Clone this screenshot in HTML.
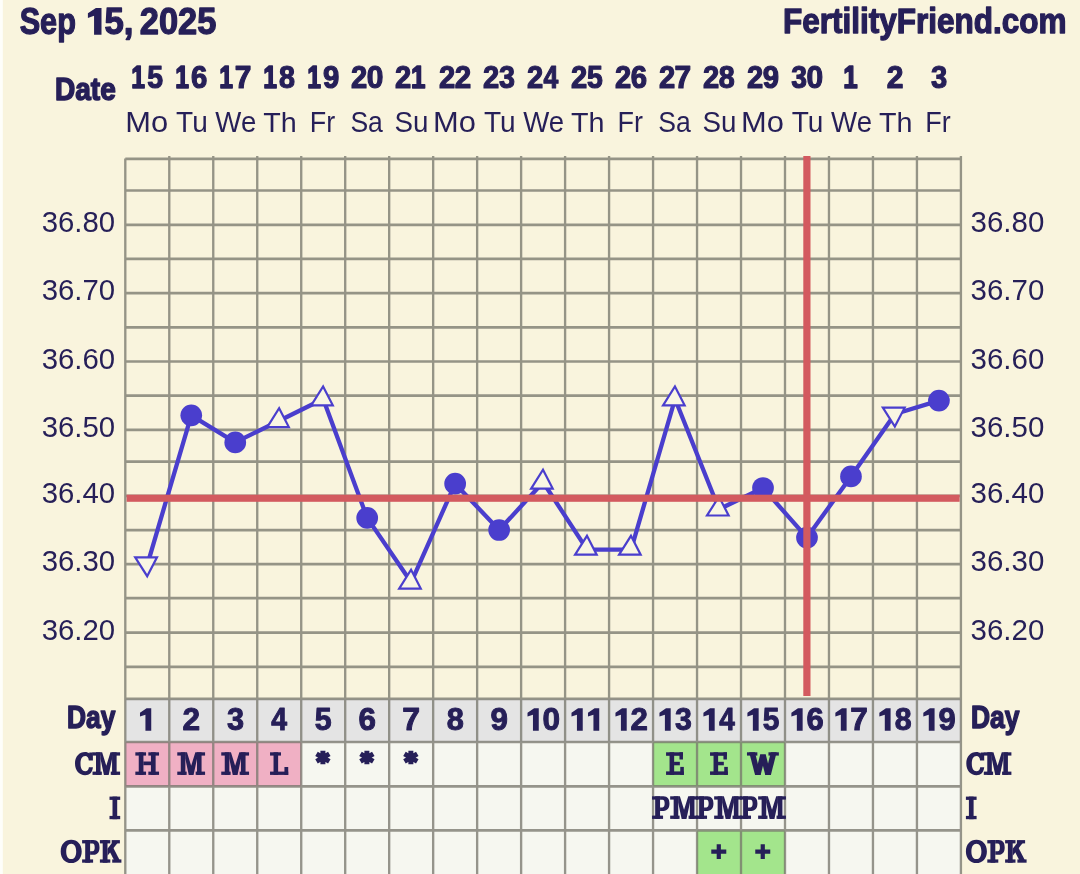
<!DOCTYPE html>
<html><head><meta charset="utf-8"><title>Chart</title>
<style>html,body{margin:0;padding:0;background:#f9f4dd;}svg{display:block}body{font-family:"Liberation Sans",sans-serif;}</style></head>
<body>
<svg width="1080" height="874" viewBox="0 0 1080 874">
<rect width="1080" height="874" fill="#f9f4dd"/>
<defs><filter id="soft" x="-10" y="-10" width="1100" height="894" filterUnits="userSpaceOnUse" color-interpolation-filters="sRGB"><feGaussianBlur stdDeviation="0.45"/></filter></defs>
<g filter="url(#soft)"><rect x="-10" y="-10" width="1100" height="894" fill="#f9f4dd"/>
<rect x="-10" y="-10" width="12.8" height="894" fill="#fefefa"/>
<rect x="125.30" y="698.9" width="835.62" height="43.10" fill="#e4e4e4"/>
<rect x="125.30" y="742.0" width="835.62" height="142.00" fill="#f6f7f0"/>
<rect x="125.30" y="742.00" width="43.98" height="44.40" fill="#f0b0c4"/>
<rect x="169.28" y="742.00" width="43.98" height="44.40" fill="#f0b0c4"/>
<rect x="213.26" y="742.00" width="43.98" height="44.40" fill="#f0b0c4"/>
<rect x="257.24" y="742.00" width="43.98" height="44.40" fill="#f0b0c4"/>
<rect x="653.06" y="742.00" width="43.98" height="44.40" fill="#a3e58c"/>
<rect x="697.04" y="742.00" width="43.98" height="44.40" fill="#a3e58c"/>
<rect x="741.02" y="742.00" width="43.98" height="44.40" fill="#a3e58c"/>
<rect x="697.04" y="830.40" width="43.98" height="55.60" fill="#a3e58c"/>
<rect x="741.02" y="830.40" width="43.98" height="55.60" fill="#a3e58c"/>
<g opacity="0.76" stroke="#77766c" fill="none"><path d="M125.30 158.90H960.92M125.30 190.50H960.92M125.30 224.80H960.92M125.30 258.90H960.92M125.30 293.20H960.92M125.30 327.30H960.92M125.30 361.50H960.92M125.30 395.60H960.92M125.30 429.90H960.92M125.30 461.60H960.92M125.30 495.90H960.92M125.30 530.20H960.92M125.30 564.20H960.92M125.30 598.20H960.92M125.30 632.60H960.92M125.30 666.90H960.92M125.30 698.90H960.92M125.30 742.00H960.92M125.30 786.40H960.92M125.30 830.40H960.92" stroke-width="2.7"/><path d="M125.30 158.5V884M169.28 156V884M213.26 156V884M257.24 156V884M301.22 156V884M345.20 156V884M389.18 156V884M433.16 156V884M477.14 156V884M521.12 156V884M565.10 156V884M609.08 156V884M653.06 156V884M697.04 156V884M741.02 156V884M785.00 156V884M828.98 156V884M872.96 156V884M916.94 156V884M960.92 156V884" stroke-width="2.35"/></g>
<polyline points="147.29,564.80 191.27,415.30 235.25,442.40 279.23,420.80 323.21,399.00 367.19,517.90 411.17,582.30 455.15,483.70 499.13,530.00 543.11,482.30 587.09,549.60 631.07,549.60 675.05,399.00 719.03,509.20 763.01,488.00 806.99,537.60 850.97,476.40 894.95,414.00 938.93,400.60" fill="none" stroke="#4a3ecd" stroke-width="4.3" stroke-linejoin="round"/>
<path d="M147.19 576.20L156.99 557.30H135.19Z" fill="#f9f6e3" stroke="#4a3ecd" stroke-width="2.2"/>
<circle cx="191.27" cy="415.30" r="10.85" fill="#4a3ecd"/>
<circle cx="235.25" cy="442.40" r="10.85" fill="#4a3ecd"/>
<path d="M279.13 408.20L288.83 427.10H267.23Z" fill="#f9f6e3" stroke="#4a3ecd" stroke-width="2.2"/>
<path d="M323.11 386.40L332.81 405.30H311.21Z" fill="#f9f6e3" stroke="#4a3ecd" stroke-width="2.2"/>
<circle cx="367.19" cy="517.90" r="10.85" fill="#4a3ecd"/>
<path d="M411.07 569.70L420.77 588.60H399.17Z" fill="#f9f6e3" stroke="#4a3ecd" stroke-width="2.2"/>
<circle cx="455.15" cy="483.70" r="10.85" fill="#4a3ecd"/>
<circle cx="499.13" cy="530.00" r="10.85" fill="#4a3ecd"/>
<path d="M543.01 469.70L552.71 488.60H531.11Z" fill="#f9f6e3" stroke="#4a3ecd" stroke-width="2.2"/>
<path d="M586.99 535.80L596.69 554.70H575.09Z" fill="#f9f6e3" stroke="#4a3ecd" stroke-width="2.2"/>
<path d="M630.97 535.80L640.67 554.70H619.07Z" fill="#f9f6e3" stroke="#4a3ecd" stroke-width="2.2"/>
<path d="M674.95 386.40L684.65 405.30H663.05Z" fill="#f9f6e3" stroke="#4a3ecd" stroke-width="2.2"/>
<path d="M718.93 496.60L728.63 515.50H707.03Z" fill="#f9f6e3" stroke="#4a3ecd" stroke-width="2.2"/>
<circle cx="763.01" cy="488.00" r="10.85" fill="#4a3ecd"/>
<circle cx="806.99" cy="537.60" r="10.85" fill="#4a3ecd"/>
<circle cx="850.97" cy="476.40" r="10.85" fill="#4a3ecd"/>
<path d="M894.85 426.60L904.65 407.70H882.85Z" fill="#f9f6e3" stroke="#4a3ecd" stroke-width="2.2"/>
<circle cx="938.93" cy="400.60" r="10.85" fill="#4a3ecd"/>
<rect x="126.60" y="494.7" width="833.02" height="7.1" fill="#d35a5f"/>
<rect x="803.3" y="156" width="7.2" height="540" fill="#d35a5f"/>
<text transform="translate(19.63,34.25) scale(0.1533,0.1829)" font-family='"Liberation Sans", sans-serif' font-weight="bold" font-size="200" fill="#261f58" stroke="#261f58" stroke-width="7.11" stroke-linejoin="round">Sep</text>
<path transform="translate(87.9,8.0) scale(1.209,1.191)" d="M11.25 0V22.5H5.1V6.5L0 8.3V4.5L6.6 0z" fill="#261f58"/>
<text transform="translate(104.41,34.25) scale(0.1741,0.1841)" font-family='"Liberation Sans", sans-serif' font-weight="bold" font-size="200" fill="#261f58" stroke="#261f58" stroke-width="7.06" stroke-linejoin="round">5,</text>
<text transform="translate(139.85,34.25) scale(0.1721,0.1829)" font-family='"Liberation Sans", sans-serif' font-weight="bold" font-size="200" fill="#261f58" stroke="#261f58" stroke-width="7.11" stroke-linejoin="round">2025</text>
<text transform="translate(782.90,33.35) scale(0.1576,0.1717)" font-family='"Liberation Sans", sans-serif' font-weight="bold" font-size="200" fill="#261f58" stroke="#261f58" stroke-width="7.57" stroke-linejoin="round">FertilityFriend.com</text>
<text transform="translate(54.92,100.15) scale(0.1404,0.1580)" font-family='"Liberation Sans", sans-serif' font-weight="bold" font-size="200" fill="#261f58" stroke="#261f58" stroke-width="9.50" stroke-linejoin="round">Date</text>
<text transform="translate(131.31,87.90) scale(0.1234,0.1529)" font-family='"Liberation Sans", sans-serif' font-weight="bold" font-size="200" fill="#261f58" stroke="#261f58" stroke-width="10.46" stroke-linejoin="round">1</text>
<text transform="translate(147.14,88.10) scale(0.1420,0.1558)" font-family='"Liberation Sans", sans-serif' font-weight="bold" font-size="200" fill="#261f58" stroke="#261f58" stroke-width="7.70" stroke-linejoin="round">5</text>
<text transform="translate(125.22,131.50) scale(0.1543,0.1486)" font-family='"Liberation Sans", sans-serif' font-weight="normal" font-size="200" fill="#261f58">Mo</text>
<text transform="translate(175.29,87.90) scale(0.1234,0.1529)" font-family='"Liberation Sans", sans-serif' font-weight="bold" font-size="200" fill="#261f58" stroke="#261f58" stroke-width="10.46" stroke-linejoin="round">1</text>
<text transform="translate(190.95,88.10) scale(0.1464,0.1536)" font-family='"Liberation Sans", sans-serif' font-weight="bold" font-size="200" fill="#261f58" stroke="#261f58" stroke-width="7.81" stroke-linejoin="round">6</text>
<text transform="translate(176.06,131.50) scale(0.1402,0.1486)" font-family='"Liberation Sans", sans-serif' font-weight="normal" font-size="200" fill="#261f58">Tu</text>
<text transform="translate(219.27,87.90) scale(0.1234,0.1529)" font-family='"Liberation Sans", sans-serif' font-weight="bold" font-size="200" fill="#261f58" stroke="#261f58" stroke-width="10.46" stroke-linejoin="round">1</text>
<text transform="translate(234.75,88.10) scale(0.1495,0.1558)" font-family='"Liberation Sans", sans-serif' font-weight="bold" font-size="200" fill="#261f58" stroke="#261f58" stroke-width="7.70" stroke-linejoin="round">7</text>
<text transform="translate(215.36,131.50) scale(0.1381,0.1486)" font-family='"Liberation Sans", sans-serif' font-weight="normal" font-size="200" fill="#261f58">We</text>
<text transform="translate(263.25,87.90) scale(0.1234,0.1529)" font-family='"Liberation Sans", sans-serif' font-weight="bold" font-size="200" fill="#261f58" stroke="#261f58" stroke-width="10.46" stroke-linejoin="round">1</text>
<text transform="translate(279.07,88.10) scale(0.1434,0.1536)" font-family='"Liberation Sans", sans-serif' font-weight="bold" font-size="200" fill="#261f58" stroke="#261f58" stroke-width="7.81" stroke-linejoin="round">8</text>
<text transform="translate(263.16,131.50) scale(0.1435,0.1414)" font-family='"Liberation Sans", sans-serif' font-weight="normal" font-size="200" fill="#261f58">Th</text>
<text transform="translate(307.23,87.90) scale(0.1234,0.1529)" font-family='"Liberation Sans", sans-serif' font-weight="bold" font-size="200" fill="#261f58" stroke="#261f58" stroke-width="10.46" stroke-linejoin="round">1</text>
<text transform="translate(322.89,88.10) scale(0.1464,0.1536)" font-family='"Liberation Sans", sans-serif' font-weight="bold" font-size="200" fill="#261f58" stroke="#261f58" stroke-width="7.81" stroke-linejoin="round">9</text>
<text transform="translate(309.65,131.50) scale(0.1349,0.1486)" font-family='"Liberation Sans", sans-serif' font-weight="normal" font-size="200" fill="#261f58">Fr</text>
<text transform="translate(351.07,88.10) scale(0.1458,0.1536)" font-family='"Liberation Sans", sans-serif' font-weight="bold" font-size="200" fill="#261f58" stroke="#261f58" stroke-width="7.81" stroke-linejoin="round">2</text>
<text transform="translate(366.69,88.10) scale(0.1495,0.1536)" font-family='"Liberation Sans", sans-serif' font-weight="bold" font-size="200" fill="#261f58" stroke="#261f58" stroke-width="7.81" stroke-linejoin="round">0</text>
<text transform="translate(350.40,131.50) scale(0.1328,0.1464)" font-family='"Liberation Sans", sans-serif' font-weight="normal" font-size="200" fill="#261f58">Sa</text>
<text transform="translate(395.05,88.10) scale(0.1458,0.1536)" font-family='"Liberation Sans", sans-serif' font-weight="bold" font-size="200" fill="#261f58" stroke="#261f58" stroke-width="7.81" stroke-linejoin="round">2</text>
<text transform="translate(410.91,87.90) scale(0.1298,0.1529)" font-family='"Liberation Sans", sans-serif' font-weight="bold" font-size="200" fill="#261f58" stroke="#261f58" stroke-width="10.46" stroke-linejoin="round">1</text>
<text transform="translate(394.52,131.50) scale(0.1387,0.1464)" font-family='"Liberation Sans", sans-serif' font-weight="normal" font-size="200" fill="#261f58">Su</text>
<text transform="translate(439.03,88.10) scale(0.1458,0.1536)" font-family='"Liberation Sans", sans-serif' font-weight="bold" font-size="200" fill="#261f58" stroke="#261f58" stroke-width="7.81" stroke-linejoin="round">2</text>
<text transform="translate(454.81,88.10) scale(0.1479,0.1536)" font-family='"Liberation Sans", sans-serif' font-weight="bold" font-size="200" fill="#261f58" stroke="#261f58" stroke-width="7.81" stroke-linejoin="round">2</text>
<text transform="translate(433.08,131.50) scale(0.1543,0.1486)" font-family='"Liberation Sans", sans-serif' font-weight="normal" font-size="200" fill="#261f58">Mo</text>
<text transform="translate(483.01,88.10) scale(0.1458,0.1536)" font-family='"Liberation Sans", sans-serif' font-weight="bold" font-size="200" fill="#261f58" stroke="#261f58" stroke-width="7.81" stroke-linejoin="round">2</text>
<text transform="translate(499.11,88.10) scale(0.1434,0.1536)" font-family='"Liberation Sans", sans-serif' font-weight="bold" font-size="200" fill="#261f58" stroke="#261f58" stroke-width="7.81" stroke-linejoin="round">3</text>
<text transform="translate(483.92,131.50) scale(0.1402,0.1486)" font-family='"Liberation Sans", sans-serif' font-weight="normal" font-size="200" fill="#261f58">Tu</text>
<text transform="translate(526.99,88.10) scale(0.1458,0.1536)" font-family='"Liberation Sans", sans-serif' font-weight="bold" font-size="200" fill="#261f58" stroke="#261f58" stroke-width="7.81" stroke-linejoin="round">2</text>
<text transform="translate(543.41,88.10) scale(0.1327,0.1558)" font-family='"Liberation Sans", sans-serif' font-weight="bold" font-size="200" fill="#261f58" stroke="#261f58" stroke-width="7.70" stroke-linejoin="round">4</text>
<text transform="translate(523.22,131.50) scale(0.1381,0.1486)" font-family='"Liberation Sans", sans-serif' font-weight="normal" font-size="200" fill="#261f58">We</text>
<text transform="translate(570.97,88.10) scale(0.1458,0.1536)" font-family='"Liberation Sans", sans-serif' font-weight="bold" font-size="200" fill="#261f58" stroke="#261f58" stroke-width="7.81" stroke-linejoin="round">2</text>
<text transform="translate(586.94,88.10) scale(0.1420,0.1558)" font-family='"Liberation Sans", sans-serif' font-weight="bold" font-size="200" fill="#261f58" stroke="#261f58" stroke-width="7.70" stroke-linejoin="round">5</text>
<text transform="translate(571.02,131.50) scale(0.1435,0.1414)" font-family='"Liberation Sans", sans-serif' font-weight="normal" font-size="200" fill="#261f58">Th</text>
<text transform="translate(614.95,88.10) scale(0.1458,0.1536)" font-family='"Liberation Sans", sans-serif' font-weight="bold" font-size="200" fill="#261f58" stroke="#261f58" stroke-width="7.81" stroke-linejoin="round">2</text>
<text transform="translate(630.75,88.10) scale(0.1464,0.1536)" font-family='"Liberation Sans", sans-serif' font-weight="bold" font-size="200" fill="#261f58" stroke="#261f58" stroke-width="7.81" stroke-linejoin="round">6</text>
<text transform="translate(617.51,131.50) scale(0.1349,0.1486)" font-family='"Liberation Sans", sans-serif' font-weight="normal" font-size="200" fill="#261f58">Fr</text>
<text transform="translate(658.93,88.10) scale(0.1458,0.1536)" font-family='"Liberation Sans", sans-serif' font-weight="bold" font-size="200" fill="#261f58" stroke="#261f58" stroke-width="7.81" stroke-linejoin="round">2</text>
<text transform="translate(674.55,88.10) scale(0.1495,0.1558)" font-family='"Liberation Sans", sans-serif' font-weight="bold" font-size="200" fill="#261f58" stroke="#261f58" stroke-width="7.70" stroke-linejoin="round">7</text>
<text transform="translate(658.26,131.50) scale(0.1328,0.1464)" font-family='"Liberation Sans", sans-serif' font-weight="normal" font-size="200" fill="#261f58">Sa</text>
<text transform="translate(702.91,88.10) scale(0.1458,0.1536)" font-family='"Liberation Sans", sans-serif' font-weight="bold" font-size="200" fill="#261f58" stroke="#261f58" stroke-width="7.81" stroke-linejoin="round">2</text>
<text transform="translate(718.87,88.10) scale(0.1434,0.1536)" font-family='"Liberation Sans", sans-serif' font-weight="bold" font-size="200" fill="#261f58" stroke="#261f58" stroke-width="7.81" stroke-linejoin="round">8</text>
<text transform="translate(702.38,131.50) scale(0.1387,0.1464)" font-family='"Liberation Sans", sans-serif' font-weight="normal" font-size="200" fill="#261f58">Su</text>
<text transform="translate(746.89,88.10) scale(0.1458,0.1536)" font-family='"Liberation Sans", sans-serif' font-weight="bold" font-size="200" fill="#261f58" stroke="#261f58" stroke-width="7.81" stroke-linejoin="round">2</text>
<text transform="translate(762.69,88.10) scale(0.1464,0.1536)" font-family='"Liberation Sans", sans-serif' font-weight="bold" font-size="200" fill="#261f58" stroke="#261f58" stroke-width="7.81" stroke-linejoin="round">9</text>
<text transform="translate(740.94,131.50) scale(0.1543,0.1486)" font-family='"Liberation Sans", sans-serif' font-weight="normal" font-size="200" fill="#261f58">Mo</text>
<text transform="translate(791.18,88.10) scale(0.1414,0.1536)" font-family='"Liberation Sans", sans-serif' font-weight="bold" font-size="200" fill="#261f58" stroke="#261f58" stroke-width="7.81" stroke-linejoin="round">3</text>
<text transform="translate(806.49,88.10) scale(0.1495,0.1536)" font-family='"Liberation Sans", sans-serif' font-weight="bold" font-size="200" fill="#261f58" stroke="#261f58" stroke-width="7.81" stroke-linejoin="round">0</text>
<text transform="translate(791.78,131.50) scale(0.1402,0.1486)" font-family='"Liberation Sans", sans-serif' font-weight="normal" font-size="200" fill="#261f58">Tu</text>
<text transform="translate(843.31,87.90) scale(0.1298,0.1529)" font-family='"Liberation Sans", sans-serif' font-weight="bold" font-size="200" fill="#261f58" stroke="#261f58" stroke-width="10.46" stroke-linejoin="round">1</text>
<text transform="translate(831.08,131.50) scale(0.1381,0.1486)" font-family='"Liberation Sans", sans-serif' font-weight="normal" font-size="200" fill="#261f58">We</text>
<text transform="translate(886.70,88.10) scale(0.1500,0.1536)" font-family='"Liberation Sans", sans-serif' font-weight="bold" font-size="200" fill="#261f58" stroke="#261f58" stroke-width="7.81" stroke-linejoin="round">2</text>
<text transform="translate(878.88,131.50) scale(0.1435,0.1414)" font-family='"Liberation Sans", sans-serif' font-weight="normal" font-size="200" fill="#261f58">Th</text>
<text transform="translate(931.00,88.10) scale(0.1455,0.1536)" font-family='"Liberation Sans", sans-serif' font-weight="bold" font-size="200" fill="#261f58" stroke="#261f58" stroke-width="7.81" stroke-linejoin="round">3</text>
<text transform="translate(925.37,131.50) scale(0.1349,0.1486)" font-family='"Liberation Sans", sans-serif' font-weight="normal" font-size="200" fill="#261f58">Fr</text>
<text transform="translate(41.63,231.80) scale(0.1468,0.1450)" font-family='"Liberation Sans", sans-serif' font-weight="normal" font-size="200" fill="#261f58">36.80</text>
<text transform="translate(970.52,231.80) scale(0.1474,0.1450)" font-family='"Liberation Sans", sans-serif' font-weight="normal" font-size="200" fill="#261f58">36.80</text>
<text transform="translate(41.63,300.20) scale(0.1468,0.1450)" font-family='"Liberation Sans", sans-serif' font-weight="normal" font-size="200" fill="#261f58">36.70</text>
<text transform="translate(970.52,300.20) scale(0.1474,0.1450)" font-family='"Liberation Sans", sans-serif' font-weight="normal" font-size="200" fill="#261f58">36.70</text>
<text transform="translate(41.63,368.50) scale(0.1468,0.1450)" font-family='"Liberation Sans", sans-serif' font-weight="normal" font-size="200" fill="#261f58">36.60</text>
<text transform="translate(970.52,368.50) scale(0.1474,0.1450)" font-family='"Liberation Sans", sans-serif' font-weight="normal" font-size="200" fill="#261f58">36.60</text>
<text transform="translate(41.63,436.90) scale(0.1468,0.1450)" font-family='"Liberation Sans", sans-serif' font-weight="normal" font-size="200" fill="#261f58">36.50</text>
<text transform="translate(970.52,436.90) scale(0.1474,0.1450)" font-family='"Liberation Sans", sans-serif' font-weight="normal" font-size="200" fill="#261f58">36.50</text>
<text transform="translate(41.63,502.90) scale(0.1468,0.1450)" font-family='"Liberation Sans", sans-serif' font-weight="normal" font-size="200" fill="#261f58">36.40</text>
<text transform="translate(970.52,502.90) scale(0.1474,0.1450)" font-family='"Liberation Sans", sans-serif' font-weight="normal" font-size="200" fill="#261f58">36.40</text>
<text transform="translate(41.63,571.20) scale(0.1468,0.1450)" font-family='"Liberation Sans", sans-serif' font-weight="normal" font-size="200" fill="#261f58">36.30</text>
<text transform="translate(970.52,571.20) scale(0.1474,0.1450)" font-family='"Liberation Sans", sans-serif' font-weight="normal" font-size="200" fill="#261f58">36.30</text>
<text transform="translate(41.63,639.60) scale(0.1468,0.1450)" font-family='"Liberation Sans", sans-serif' font-weight="normal" font-size="200" fill="#261f58">36.20</text>
<text transform="translate(970.52,639.60) scale(0.1474,0.1450)" font-family='"Liberation Sans", sans-serif' font-weight="normal" font-size="200" fill="#261f58">36.20</text>
<path transform="translate(139.99,708.20)" d="M11.25 0V22.5H5.45V6.5L0 8.3V4.5L6.6 0z" fill="#261f58"/>
<text transform="translate(182.56,730.20) scale(0.1583,0.1536)" font-family='"Liberation Sans", sans-serif' font-weight="bold" font-size="200" fill="#261f58" stroke="#261f58" stroke-width="6.51" stroke-linejoin="round">2</text>
<text transform="translate(226.88,730.20) scale(0.1535,0.1536)" font-family='"Liberation Sans", sans-serif' font-weight="bold" font-size="200" fill="#261f58" stroke="#261f58" stroke-width="6.51" stroke-linejoin="round">3</text>
<text transform="translate(271.20,730.20) scale(0.1421,0.1558)" font-family='"Liberation Sans", sans-serif' font-weight="bold" font-size="200" fill="#261f58" stroke="#261f58" stroke-width="6.42" stroke-linejoin="round">4</text>
<text transform="translate(314.70,730.20) scale(0.1520,0.1558)" font-family='"Liberation Sans", sans-serif' font-weight="bold" font-size="200" fill="#261f58" stroke="#261f58" stroke-width="6.42" stroke-linejoin="round">5</text>
<text transform="translate(358.49,730.20) scale(0.1567,0.1536)" font-family='"Liberation Sans", sans-serif' font-weight="bold" font-size="200" fill="#261f58" stroke="#261f58" stroke-width="6.51" stroke-linejoin="round">6</text>
<text transform="translate(402.29,730.20) scale(0.1600,0.1558)" font-family='"Liberation Sans", sans-serif' font-weight="bold" font-size="200" fill="#261f58" stroke="#261f58" stroke-width="6.42" stroke-linejoin="round">7</text>
<text transform="translate(446.63,730.20) scale(0.1535,0.1536)" font-family='"Liberation Sans", sans-serif' font-weight="bold" font-size="200" fill="#261f58" stroke="#261f58" stroke-width="6.51" stroke-linejoin="round">8</text>
<text transform="translate(490.43,730.20) scale(0.1567,0.1536)" font-family='"Liberation Sans", sans-serif' font-weight="bold" font-size="200" fill="#261f58" stroke="#261f58" stroke-width="6.51" stroke-linejoin="round">9</text>
<path transform="translate(527.51,708.20)" d="M11.25 0V22.5H5.45V6.5L0 8.3V4.5L6.6 0z" fill="#261f58"/>
<text transform="translate(542.45,730.20) scale(0.1579,0.1536)" font-family='"Liberation Sans", sans-serif' font-weight="bold" font-size="200" fill="#261f58" stroke="#261f58" stroke-width="6.51" stroke-linejoin="round">0</text>
<path transform="translate(571.49,708.20)" d="M11.25 0V22.5H5.45V6.5L0 8.3V4.5L6.6 0z" fill="#261f58"/>
<path transform="translate(587.99,708.20)" d="M11.25 0V22.5H5.45V6.5L0 8.3V4.5L6.6 0z" fill="#261f58"/>
<path transform="translate(615.47,708.20)" d="M11.25 0V22.5H5.45V6.5L0 8.3V4.5L6.6 0z" fill="#261f58"/>
<text transform="translate(630.58,730.20) scale(0.1562,0.1536)" font-family='"Liberation Sans", sans-serif' font-weight="bold" font-size="200" fill="#261f58" stroke="#261f58" stroke-width="6.51" stroke-linejoin="round">2</text>
<path transform="translate(659.45,708.20)" d="M11.25 0V22.5H5.45V6.5L0 8.3V4.5L6.6 0z" fill="#261f58"/>
<text transform="translate(674.89,730.20) scale(0.1515,0.1536)" font-family='"Liberation Sans", sans-serif' font-weight="bold" font-size="200" fill="#261f58" stroke="#261f58" stroke-width="6.51" stroke-linejoin="round">3</text>
<path transform="translate(703.43,708.20)" d="M11.25 0V22.5H5.45V6.5L0 8.3V4.5L6.6 0z" fill="#261f58"/>
<text transform="translate(719.21,730.20) scale(0.1402,0.1558)" font-family='"Liberation Sans", sans-serif' font-weight="bold" font-size="200" fill="#261f58" stroke="#261f58" stroke-width="6.42" stroke-linejoin="round">4</text>
<path transform="translate(747.41,708.20)" d="M11.25 0V22.5H5.45V6.5L0 8.3V4.5L6.6 0z" fill="#261f58"/>
<text transform="translate(762.71,730.20) scale(0.1500,0.1558)" font-family='"Liberation Sans", sans-serif' font-weight="bold" font-size="200" fill="#261f58" stroke="#261f58" stroke-width="6.42" stroke-linejoin="round">5</text>
<path transform="translate(791.39,708.20)" d="M11.25 0V22.5H5.45V6.5L0 8.3V4.5L6.6 0z" fill="#261f58"/>
<text transform="translate(806.51,730.20) scale(0.1546,0.1536)" font-family='"Liberation Sans", sans-serif' font-weight="bold" font-size="200" fill="#261f58" stroke="#261f58" stroke-width="6.51" stroke-linejoin="round">6</text>
<path transform="translate(835.37,708.20)" d="M11.25 0V22.5H5.45V6.5L0 8.3V4.5L6.6 0z" fill="#261f58"/>
<text transform="translate(850.31,730.20) scale(0.1579,0.1558)" font-family='"Liberation Sans", sans-serif' font-weight="bold" font-size="200" fill="#261f58" stroke="#261f58" stroke-width="6.42" stroke-linejoin="round">7</text>
<path transform="translate(879.35,708.20)" d="M11.25 0V22.5H5.45V6.5L0 8.3V4.5L6.6 0z" fill="#261f58"/>
<text transform="translate(894.64,730.20) scale(0.1515,0.1536)" font-family='"Liberation Sans", sans-serif' font-weight="bold" font-size="200" fill="#261f58" stroke="#261f58" stroke-width="6.51" stroke-linejoin="round">8</text>
<path transform="translate(923.33,708.20)" d="M11.25 0V22.5H5.45V6.5L0 8.3V4.5L6.6 0z" fill="#261f58"/>
<text transform="translate(938.45,730.20) scale(0.1546,0.1536)" font-family='"Liberation Sans", sans-serif' font-weight="bold" font-size="200" fill="#261f58" stroke="#261f58" stroke-width="6.51" stroke-linejoin="round">9</text>
<text transform="translate(67.03,728.05) scale(0.1320,0.1558)" font-family='"Liberation Sans", sans-serif' font-weight="bold" font-size="200" fill="#261f58" stroke="#261f58" stroke-width="9.63" stroke-linejoin="round">Day</text>
<text transform="translate(970.88,728.05) scale(0.1322,0.1558)" font-family='"Liberation Sans", sans-serif' font-weight="bold" font-size="200" fill="#261f58" stroke="#261f58" stroke-width="9.63" stroke-linejoin="round">Day</text>
<g transform="translate(75.00,752.30) scale(1.0000,1.0000)" fill="#261f58"><path d="M17.9 8.2H13.8C13.5 5.2 12.4 3.6 10.2 3.6C7.1 3.6 5.5 6.4 5.5 11.3C5.5 16.2 7.1 19 10.2 19C12.4 19 13.6 17.5 13.9 14.9H17.9C17.5 19.9 14.6 22.9 10.1 22.9C4.2 22.9 0 18.4 0 11.3C0 4.2 4.2 -0.3 10.1 -0.3C11.9 -0.3 13.3 0.2 14.3 1.2V0.2H17.9z" fill-rule="evenodd"/></g><g transform="translate(92.50,752.30) scale(0.9928,1.0000)" fill="#261f58"><path d="M0 0h8.2v3.3h-8.2z" fill-rule="evenodd"/><path d="M3.5 0h4.6v22.6h-4.6z" fill-rule="evenodd"/><path d="M0 19.3h9.4v3.3h-9.4z" fill-rule="evenodd"/><path d="M8.0 0L9.7 0L13.9 13.4L18.1 0L19.8 0L19.8 6.2L16.3 22.6L11.5 22.6L8.0 6.2z" fill-rule="evenodd"/><path d="M19.7 0h4.6v22.6h-4.6z" fill-rule="evenodd"/><path d="M19.7 0h8.1v3.3h-8.1z" fill-rule="evenodd"/><path d="M18.4 19.3h9.4v3.3h-9.4z" fill-rule="evenodd"/></g>
<g transform="translate(966.30,752.30) scale(1.0000,1.0000)" fill="#261f58"><path d="M17.9 8.2H13.8C13.5 5.2 12.4 3.6 10.2 3.6C7.1 3.6 5.5 6.4 5.5 11.3C5.5 16.2 7.1 19 10.2 19C12.4 19 13.6 17.5 13.9 14.9H17.9C17.5 19.9 14.6 22.9 10.1 22.9C4.2 22.9 0 18.4 0 11.3C0 4.2 4.2 -0.3 10.1 -0.3C11.9 -0.3 13.3 0.2 14.3 1.2V0.2H17.9z" fill-rule="evenodd"/></g><g transform="translate(983.80,752.30) scale(0.9928,1.0000)" fill="#261f58"><path d="M0 0h8.2v3.3h-8.2z" fill-rule="evenodd"/><path d="M3.5 0h4.6v22.6h-4.6z" fill-rule="evenodd"/><path d="M0 19.3h9.4v3.3h-9.4z" fill-rule="evenodd"/><path d="M8.0 0L9.7 0L13.9 13.4L18.1 0L19.8 0L19.8 6.2L16.3 22.6L11.5 22.6L8.0 6.2z" fill-rule="evenodd"/><path d="M19.7 0h4.6v22.6h-4.6z" fill-rule="evenodd"/><path d="M19.7 0h8.1v3.3h-8.1z" fill-rule="evenodd"/><path d="M18.4 19.3h9.4v3.3h-9.4z" fill-rule="evenodd"/></g>
<g transform="translate(109.50,796.60) scale(1.0000,1.0000)" fill="#261f58"><path d="M0 0h10.7v3.3h-10.7z" fill-rule="evenodd"/><path d="M3 0h4.7v22.6h-4.7z" fill-rule="evenodd"/><path d="M0 19.3h10.7v3.3h-10.7z" fill-rule="evenodd"/></g>
<g transform="translate(965.90,796.60) scale(1.0000,1.0000)" fill="#261f58"><path d="M0 0h10.7v3.3h-10.7z" fill-rule="evenodd"/><path d="M3 0h4.7v22.6h-4.7z" fill-rule="evenodd"/><path d="M0 19.3h10.7v3.3h-10.7z" fill-rule="evenodd"/></g>
<g transform="translate(60.70,840.10) scale(1.0000,1.0000)" fill="#261f58"><path d="M10.5 -0.3C16.6 -0.3 21 4.3 21 11.3C21 18.3 16.6 22.9 10.5 22.9C4.4 22.9 0 18.3 0 11.3C0 4.3 4.4 -0.3 10.5 -0.3zM10.5 3.6C7.4 3.6 5.5 6.4 5.5 11.3C5.5 16.2 7.4 19 10.5 19C13.6 19 15.5 16.2 15.5 11.3C15.5 6.4 13.6 3.6 10.5 3.6z" fill-rule="evenodd"/></g><g transform="translate(82.10,840.10) scale(1.0000,1.0000)" fill="#261f58"><path d="M0 0h8v3.3h-8z" fill-rule="evenodd"/><path d="M3.1 0h4.9v22.6h-4.9z" fill-rule="evenodd"/><path d="M0 19.3h11v3.3h-11z" fill-rule="evenodd"/><path d="M8 0H11.3C15.6 0 17.4 3 17.4 7.3C17.4 11.6 15.6 14.6 11.3 14.6H8V11.1H10.4C12 11.1 12.6 9.6 12.6 7.3C12.6 5 12 3.5 10.4 3.5H8z" fill-rule="evenodd"/></g><g transform="translate(99.90,840.10) scale(1.0000,1.0000)" fill="#261f58"><path d="M2.8 0h4.8v22.6h-4.8z" fill-rule="evenodd"/><path d="M0 0h10.4v3.3h-10.4z" fill-rule="evenodd"/><path d="M0 19.3h10.4v3.3h-10.4z" fill-rule="evenodd"/><path d="M11.8 0h8.2v3.3h-8.2z" fill-rule="evenodd"/><path d="M12.3 19.3h9.2v3.3h-9.2z" fill-rule="evenodd"/><path d="M7.6 8.6L13.2 1.4L18.8 1.4L7.6 15.6z" fill-rule="evenodd"/><path d="M9.6 11.2L13.4 7.6L20.2 21L14.6 21z" fill-rule="evenodd"/></g>
<g transform="translate(965.90,840.10) scale(1.0000,1.0000)" fill="#261f58"><path d="M10.5 -0.3C16.6 -0.3 21 4.3 21 11.3C21 18.3 16.6 22.9 10.5 22.9C4.4 22.9 0 18.3 0 11.3C0 4.3 4.4 -0.3 10.5 -0.3zM10.5 3.6C7.4 3.6 5.5 6.4 5.5 11.3C5.5 16.2 7.4 19 10.5 19C13.6 19 15.5 16.2 15.5 11.3C15.5 6.4 13.6 3.6 10.5 3.6z" fill-rule="evenodd"/></g><g transform="translate(987.30,840.10) scale(1.0000,1.0000)" fill="#261f58"><path d="M0 0h8v3.3h-8z" fill-rule="evenodd"/><path d="M3.1 0h4.9v22.6h-4.9z" fill-rule="evenodd"/><path d="M0 19.3h11v3.3h-11z" fill-rule="evenodd"/><path d="M8 0H11.3C15.6 0 17.4 3 17.4 7.3C17.4 11.6 15.6 14.6 11.3 14.6H8V11.1H10.4C12 11.1 12.6 9.6 12.6 7.3C12.6 5 12 3.5 10.4 3.5H8z" fill-rule="evenodd"/></g><g transform="translate(1005.10,840.10) scale(1.0000,1.0000)" fill="#261f58"><path d="M2.8 0h4.8v22.6h-4.8z" fill-rule="evenodd"/><path d="M0 0h10.4v3.3h-10.4z" fill-rule="evenodd"/><path d="M0 19.3h10.4v3.3h-10.4z" fill-rule="evenodd"/><path d="M11.8 0h8.2v3.3h-8.2z" fill-rule="evenodd"/><path d="M12.3 19.3h9.2v3.3h-9.2z" fill-rule="evenodd"/><path d="M7.6 8.6L13.2 1.4L18.8 1.4L7.6 15.6z" fill-rule="evenodd"/><path d="M9.6 11.2L13.4 7.6L20.2 21L14.6 21z" fill-rule="evenodd"/></g>
<g transform="translate(135.34,752.30) scale(1.0000,1.0000)" fill="#261f58"><path d="M0 0h10.7v3.3h-10.7z" fill-rule="evenodd"/><path d="M13 0h10.7v3.3h-10.7z" fill-rule="evenodd"/><path d="M0 19.3h10.7v3.3h-10.7z" fill-rule="evenodd"/><path d="M13 19.3h10.7v3.3h-10.7z" fill-rule="evenodd"/><path d="M3.4 0h4.7v22.6h-4.7z" fill-rule="evenodd"/><path d="M15.6 0h4.7v22.6h-4.7z" fill-rule="evenodd"/><path d="M8 9.2h8v3.7h-8z" fill-rule="evenodd"/></g>
<g transform="translate(177.27,752.30) scale(1.0000,1.0000)" fill="#261f58"><path d="M0 0h8.2v3.3h-8.2z" fill-rule="evenodd"/><path d="M3.5 0h4.6v22.6h-4.6z" fill-rule="evenodd"/><path d="M0 19.3h9.4v3.3h-9.4z" fill-rule="evenodd"/><path d="M8.0 0L9.7 0L13.9 13.4L18.1 0L19.8 0L19.8 6.2L16.3 22.6L11.5 22.6L8.0 6.2z" fill-rule="evenodd"/><path d="M19.7 0h4.6v22.6h-4.6z" fill-rule="evenodd"/><path d="M19.7 0h8.1v3.3h-8.1z" fill-rule="evenodd"/><path d="M18.4 19.3h9.4v3.3h-9.4z" fill-rule="evenodd"/></g>
<g transform="translate(221.25,752.30) scale(1.0000,1.0000)" fill="#261f58"><path d="M0 0h8.2v3.3h-8.2z" fill-rule="evenodd"/><path d="M3.5 0h4.6v22.6h-4.6z" fill-rule="evenodd"/><path d="M0 19.3h9.4v3.3h-9.4z" fill-rule="evenodd"/><path d="M8.0 0L9.7 0L13.9 13.4L18.1 0L19.8 0L19.8 6.2L16.3 22.6L11.5 22.6L8.0 6.2z" fill-rule="evenodd"/><path d="M19.7 0h4.6v22.6h-4.6z" fill-rule="evenodd"/><path d="M19.7 0h8.1v3.3h-8.1z" fill-rule="evenodd"/><path d="M18.4 19.3h9.4v3.3h-9.4z" fill-rule="evenodd"/></g>
<g transform="translate(270.03,752.30) scale(1.0000,1.0000)" fill="#261f58"><path d="M0 0h11v3.3h-11z" fill-rule="evenodd"/><path d="M3.5 0h4.6v22.6h-4.6z" fill-rule="evenodd"/><path d="M0 19.3h18.2v3.3h-18.2z" fill-rule="evenodd"/><path d="M14.4 14.6h3.8v8h-3.8z" fill-rule="evenodd"/></g>
<g transform="translate(666.05,752.30) scale(1.0000,1.0000)" fill="#261f58"><path d="M3.5 0h4.6v22.6h-4.6z" fill-rule="evenodd"/><path d="M0 0h16.9v3.5h-16.9z" fill-rule="evenodd"/><path d="M13.4 0h3.5v7.2h-3.5z" fill-rule="evenodd"/><path d="M8 9.5h5.8v3.5h-5.8z" fill-rule="evenodd"/><path d="M0 19.1h17.8v3.5h-17.8z" fill-rule="evenodd"/><path d="M14.2 14.6h3.6v8h-3.6z" fill-rule="evenodd"/></g>
<g transform="translate(710.03,752.30) scale(1.0000,1.0000)" fill="#261f58"><path d="M3.5 0h4.6v22.6h-4.6z" fill-rule="evenodd"/><path d="M0 0h16.9v3.5h-16.9z" fill-rule="evenodd"/><path d="M13.4 0h3.5v7.2h-3.5z" fill-rule="evenodd"/><path d="M8 9.5h5.8v3.5h-5.8z" fill-rule="evenodd"/><path d="M0 19.1h17.8v3.5h-17.8z" fill-rule="evenodd"/><path d="M14.2 14.6h3.6v8h-3.6z" fill-rule="evenodd"/></g>
<g transform="translate(746.96,752.30) scale(1.0000,1.0000)" fill="#261f58"><path d="M0 0h10.4v3.3h-10.4z" fill-rule="evenodd"/><path d="M21.5 0h10.4v3.3h-10.4z" fill-rule="evenodd"/><path d="M2.2 0L8.0 0L13.7 22.6L8.1 22.6z" fill-rule="evenodd"/><path d="M8.1 22.6L13.7 22.6L18.8 2.3L13.2 2.3z" fill-rule="evenodd"/><path d="M13.2 2.3L18.8 2.3L23.9 22.6L18.3 22.6z" fill-rule="evenodd"/><path d="M18.3 22.6L23.9 22.6L29.7 0L23.9 0z" fill-rule="evenodd"/></g>
<g transform="translate(652.06,796.30) scale(1.0000,1.0000)" fill="#261f58"><path d="M0 0h8v3.3h-8z" fill-rule="evenodd"/><path d="M3.1 0h4.9v22.6h-4.9z" fill-rule="evenodd"/><path d="M0 19.3h11v3.3h-11z" fill-rule="evenodd"/><path d="M8 0H11.3C15.6 0 17.4 3 17.4 7.3C17.4 11.6 15.6 14.6 11.3 14.6H8V11.1H10.4C12 11.1 12.6 9.6 12.6 7.3C12.6 5 12 3.5 10.4 3.5H8z" fill-rule="evenodd"/></g>
<g transform="translate(670.16,796.30) scale(1.0000,1.0000)" fill="#261f58"><path d="M0 0h8.2v3.3h-8.2z" fill-rule="evenodd"/><path d="M3.5 0h4.6v22.6h-4.6z" fill-rule="evenodd"/><path d="M0 19.3h9.4v3.3h-9.4z" fill-rule="evenodd"/><path d="M8.0 0L9.7 0L13.9 13.4L18.1 0L19.8 0L19.8 6.2L16.3 22.6L11.5 22.6L8.0 6.2z" fill-rule="evenodd"/><path d="M19.7 0h4.6v22.6h-4.6z" fill-rule="evenodd"/><path d="M19.7 0h8.1v3.3h-8.1z" fill-rule="evenodd"/><path d="M18.4 19.3h9.4v3.3h-9.4z" fill-rule="evenodd"/></g>
<g transform="translate(696.04,796.30) scale(1.0000,1.0000)" fill="#261f58"><path d="M0 0h8v3.3h-8z" fill-rule="evenodd"/><path d="M3.1 0h4.9v22.6h-4.9z" fill-rule="evenodd"/><path d="M0 19.3h11v3.3h-11z" fill-rule="evenodd"/><path d="M8 0H11.3C15.6 0 17.4 3 17.4 7.3C17.4 11.6 15.6 14.6 11.3 14.6H8V11.1H10.4C12 11.1 12.6 9.6 12.6 7.3C12.6 5 12 3.5 10.4 3.5H8z" fill-rule="evenodd"/></g>
<g transform="translate(714.14,796.30) scale(1.0000,1.0000)" fill="#261f58"><path d="M0 0h8.2v3.3h-8.2z" fill-rule="evenodd"/><path d="M3.5 0h4.6v22.6h-4.6z" fill-rule="evenodd"/><path d="M0 19.3h9.4v3.3h-9.4z" fill-rule="evenodd"/><path d="M8.0 0L9.7 0L13.9 13.4L18.1 0L19.8 0L19.8 6.2L16.3 22.6L11.5 22.6L8.0 6.2z" fill-rule="evenodd"/><path d="M19.7 0h4.6v22.6h-4.6z" fill-rule="evenodd"/><path d="M19.7 0h8.1v3.3h-8.1z" fill-rule="evenodd"/><path d="M18.4 19.3h9.4v3.3h-9.4z" fill-rule="evenodd"/></g>
<g transform="translate(740.02,796.30) scale(1.0000,1.0000)" fill="#261f58"><path d="M0 0h8v3.3h-8z" fill-rule="evenodd"/><path d="M3.1 0h4.9v22.6h-4.9z" fill-rule="evenodd"/><path d="M0 19.3h11v3.3h-11z" fill-rule="evenodd"/><path d="M8 0H11.3C15.6 0 17.4 3 17.4 7.3C17.4 11.6 15.6 14.6 11.3 14.6H8V11.1H10.4C12 11.1 12.6 9.6 12.6 7.3C12.6 5 12 3.5 10.4 3.5H8z" fill-rule="evenodd"/></g>
<g transform="translate(758.12,796.30) scale(1.0000,1.0000)" fill="#261f58"><path d="M0 0h8.2v3.3h-8.2z" fill-rule="evenodd"/><path d="M3.5 0h4.6v22.6h-4.6z" fill-rule="evenodd"/><path d="M0 19.3h9.4v3.3h-9.4z" fill-rule="evenodd"/><path d="M8.0 0L9.7 0L13.9 13.4L18.1 0L19.8 0L19.8 6.2L16.3 22.6L11.5 22.6L8.0 6.2z" fill-rule="evenodd"/><path d="M19.7 0h4.6v22.6h-4.6z" fill-rule="evenodd"/><path d="M19.7 0h8.1v3.3h-8.1z" fill-rule="evenodd"/><path d="M18.4 19.3h9.4v3.3h-9.4z" fill-rule="evenodd"/></g>
<path d="M711.28 851.7H726.28M718.78 844.3V859.1" stroke="#261f58" stroke-width="4.2" fill="none"/>
<path d="M755.26 851.7H770.26M762.76 844.3V859.1" stroke="#261f58" stroke-width="4.2" fill="none"/>
<path d="M322.91 750.85V764.35M316.51 753.90L329.31 761.30M316.51 761.30L329.31 753.90" stroke="#261f58" stroke-width="5" fill="none"/>
<path d="M366.89 750.85V764.35M360.49 753.90L373.29 761.30M360.49 761.30L373.29 753.90" stroke="#261f58" stroke-width="5" fill="none"/>
<path d="M410.87 750.85V764.35M404.47 753.90L417.27 761.30M404.47 761.30L417.27 753.90" stroke="#261f58" stroke-width="5" fill="none"/>
</g></svg>
</body></html>
